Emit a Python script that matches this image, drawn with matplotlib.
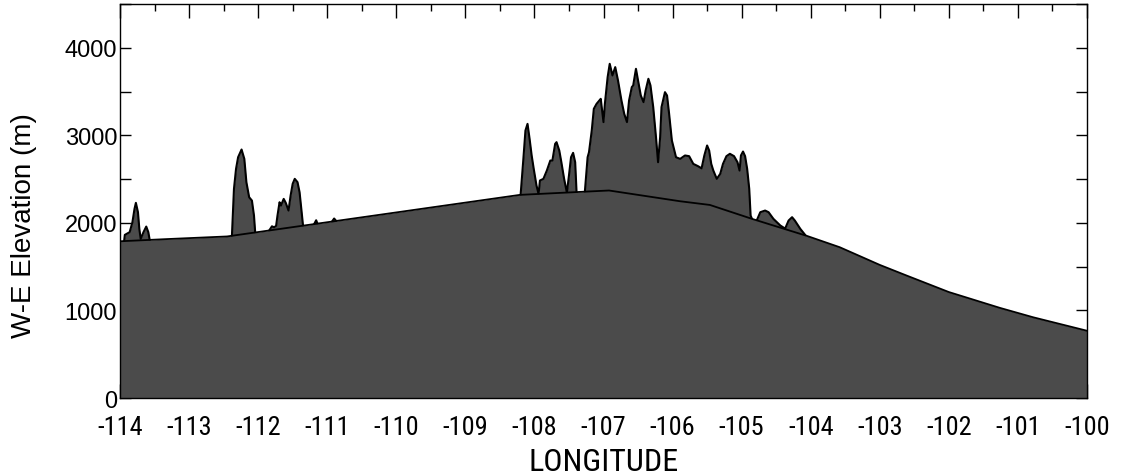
import matplotlib
matplotlib.use("Agg")
import matplotlib.pyplot as plt
from matplotlib.ticker import MultipleLocator
from matplotlib import font_manager as fm

# ---- data (longitude, elevation in m) ----
base_lon = [-114.0, -113.32, -112.45, -108.21, -107.44, -106.92, -105.89, -105.46,
            -104.85, -104.05, -103.58, -103.00, -102.61, -102.00, -101.26, -100.78, -100.0]
base_elev = [1790, 1815, 1845, 2320, 2350, 2370, 2247, 2205,
             2046, 1850, 1722, 1520, 1398, 1210, 1029, 922, 768]

peak1_lon = [-113.94, -113.93, -113.86, -113.82, -113.79, -113.77, -113.74, -113.72,
             -113.70, -113.66, -113.62, -113.59, -113.57]
peak1_elev = [1795, 1863, 1894, 2008, 2160, 2229, 2122, 1931, 1817, 1894, 1958, 1894, 1805]

peak2_lon = [-112.38, -112.35, -112.32, -112.29, -112.24, -112.20, -112.17, -112.13,
             -112.09, -112.06, -112.04]
peak2_elev = [1845, 2389, 2617, 2750, 2838, 2731, 2465, 2293, 2255, 2083, 1860]

peak3_lon = [-111.84, -111.80, -111.77, -111.74, -111.72, -111.69, -111.67, -111.63,
             -111.60, -111.56, -111.53, -111.50, -111.47, -111.43, -111.40, -111.37, -111.35]
peak3_elev = [1913, 1961, 1950, 1965, 2083, 2236, 2198, 2274, 2229, 2141, 2312, 2446,
              2503, 2465, 2350, 2122, 1968]

peak4_lon = [-111.19, -111.16, -111.14]
peak4_elev = [1985, 2030, 1990]

peak5_lon = [-110.93, -110.90, -110.87]
peak5_elev = [2015, 2050, 2022]

peak6_lon = [-108.20, -108.16, -108.13, -108.10, -108.07, -108.04, -108.01, -107.97,
             -107.94, -107.92, -107.87, -107.82, -107.77, -107.74, -107.70, -107.68,
             -107.64, -107.61, -107.57, -107.53, -107.50, -107.47, -107.44, -107.41, -107.39]
peak6_elev = [2320, 2731, 3055, 3131, 2960, 2770, 2617, 2427, 2330, 2484, 2503, 2598,
              2712, 2712, 2903, 2922, 2826, 2693, 2503, 2345, 2541, 2750, 2800, 2693, 2350]

peak7_lon = [-107.27, -107.23, -107.21, -107.17, -107.14, -107.10, -107.06, -107.04,
             -107.00, -106.98, -106.94, -106.91, -106.87, -106.83, -106.79, -106.74,
             -106.70, -106.66, -106.63, -106.59, -106.57, -106.53, -106.50, -106.46,
             -106.42, -106.39, -106.35, -106.32, -106.28, -106.24, -106.21, -106.18,
             -106.16, -106.11, -106.08, -106.05, -106.01, -105.95, -105.89, -105.82,
             -105.76, -105.70, -105.63, -105.58, -105.54, -105.50, -105.47, -105.44,
             -105.41, -105.36, -105.31, -105.27, -105.22, -105.17, -105.11, -105.06,
             -105.03, -105.01, -104.98, -104.95, -104.92, -104.89, -104.87, -104.85]
peak7_elev = [2355, 2750, 2807, 3055, 3303, 3360, 3398, 3417,
              3151, 3360, 3665, 3817, 3684, 3779, 3627, 3398,
              3246, 3151, 3398, 3551, 3570, 3760, 3627, 3455,
              3379, 3512, 3646, 3570, 3322, 2979, 2693, 2979,
              3322, 3493, 3455, 3246, 2941, 2750, 2731, 2770,
              2762, 2674, 2647, 2623, 2770, 2884, 2826, 2674,
              2598, 2503, 2560, 2674, 2762, 2789, 2762, 2693,
              2598, 2770, 2815, 2762, 2617, 2389, 2083, 2046]

peak8_lon = [-104.78, -104.73, -104.66, -104.61, -104.54, -104.44, -104.37, -104.32,
             -104.27, -104.23, -104.15, -104.08]
peak8_elev = [2030, 2122, 2141, 2122, 2046, 1970, 1935, 2027, 2065, 2027, 1931, 1862]

peaks = [(peak1_lon, peak1_elev), (peak2_lon, peak2_elev), (peak3_lon, peak3_elev),
         (peak4_lon, peak4_elev), (peak5_lon, peak5_elev), (peak6_lon, peak6_elev),
         (peak7_lon, peak7_elev), (peak8_lon, peak8_elev)]

x_ticks = list(range(-114, -99))
y_ticks = [0, 1000, 2000, 3000, 4000]

# ---- fonts: prefer a Helvetica-like condensed face ----
pref = ["Liberation Sans Narrow", "Roboto Condensed", "Noto Sans", "Open Sans",
        "Roboto", "Noto Sans Condensed", "Open Sans Condensed", "DejaVu Sans"]
best, best_rank = None, 99
for f in fm.fontManager.ttflist:
    is_cond = ("Narrow" in f.name or "Condensed" in f.name
               or f.stretch in ("condensed", "semi-condensed", "extra-condensed"))
    if not (is_cond and f.style == "normal"
            and f.weight in (400, "normal", "regular", "book")):
        continue
    rank = pref.index(f.name) if f.name in pref else 50
    if "DejaVu" in f.name:
        rank = 60
    if rank < best_rank:
        best, best_rank = f, rank
if best is not None:
    narrow_kw = dict(fname=best.fname)
    xt_size, xl_size = 19, 23
else:
    narrow_kw = dict(family=["Liberation Sans", "DejaVu Sans"])
    xt_size, xl_size = 17, 19
regular = ["Liberation Sans", "DejaVu Sans"]

# ---- plot ----
fill_color = "#4b4b4b"
fig = plt.figure(figsize=(11.25, 4.77), dpi=100)
ax = fig.add_axes([120 / 1125, 1 - 399 / 477, 967 / 1125, 394 / 477])

for lon, elev in peaks:
    ax.fill_between(lon, 0, elev, color=fill_color, lw=0, zorder=2)
    ax.plot(lon, elev, color="black", lw=1.5, zorder=3)

ax.fill_between(base_lon, 0, base_elev, color=fill_color, lw=0, zorder=4)
ax.plot(base_lon, base_elev, color="black", lw=1.3, zorder=5)

ax.set_xlim(-114, -100)
ax.set_ylim(0, 4500)
ax.set_xticks(x_ticks)
ax.set_xticklabels([str(t) for t in x_ticks])
ax.set_yticks(y_ticks)
ax.set_yticklabels([str(t) for t in y_ticks])
ax.yaxis.set_minor_locator(MultipleLocator(500))
ax.xaxis.set_minor_locator(MultipleLocator(0.5))

ax.tick_params(axis="both", which="both", direction="in", top=True, right=True,
               width=1.0, color="black")
ax.tick_params(axis="x", which="major", length=10, pad=12)
ax.tick_params(axis="x", which="minor", length=5, bottom=False)
ax.tick_params(axis="y", which="major", length=8, pad=2)
ax.tick_params(axis="y", which="minor", length=8)

for sp in ax.spines.values():
    sp.set_linewidth(1.0)
    sp.set_zorder(6)

xt_fp = fm.FontProperties(size=xt_size, **narrow_kw)
for lab in ax.get_xticklabels():
    lab.set_fontproperties(xt_fp)
for lab in ax.get_yticklabels():
    lab.set_fontfamily(regular)
    lab.set_fontsize(17)

ax.set_xlabel("LONGITUDE", fontproperties=fm.FontProperties(size=xl_size, **narrow_kw),
              labelpad=6)
ax.set_ylabel("W-E Elevation (m)", fontsize=20, family=regular)
ax.yaxis.set_label_coords(-0.086, 0.44)

fig.savefig("out.png", dpi=100)
